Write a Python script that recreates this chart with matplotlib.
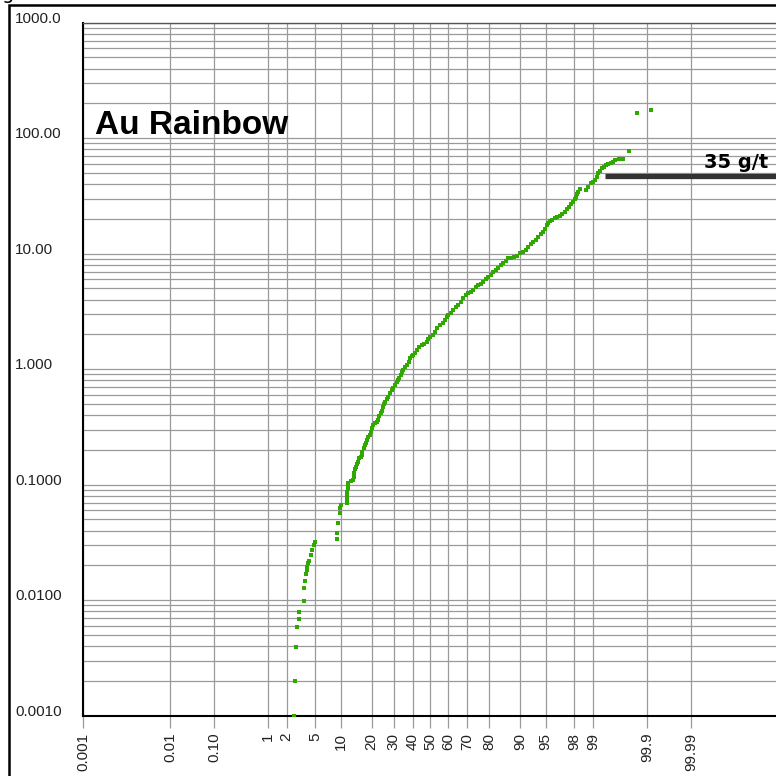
# -*- coding: utf-8 -*-
"""
Au Rainbow - log probability plot
"""
import math

import numpy as np

import matplotlib
matplotlib.use('Agg')
import matplotlib.pyplot as plt
from matplotlib.patches import Rectangle
from matplotlib.ticker import FixedLocator, NullLocator, LogLocator


# cumulative frequency (%)
pct = [2.58, 2.65, 2.71, 2.85, 3.02, 3.02, 3.54, 3.54, 3.68, 3.73,
       3.85, 3.92, 4.04, 4.18, 4.39, 4.59, 4.81, 4.95,
       9.02, 9.17, 9.40, 9.80, 9.92, 10.05, 11.57, 11.64, 11.73, 11.78,
       11.85, 11.94, 12.03, 12.73, 13.50, 13.61, 13.72, 14.01, 14.37, 14.76,
       15.13, 15.53, 15.94, 16.23, 16.50, 16.98, 17.46, 17.78, 18.11, 18.73,
       19.38, 19.71, 20.05, 20.70, 21.39, 22.07, 22.78, 23.31, 23.86, 24.29,
       24.73, 25.24, 25.79, 26.54, 27.33, 28.14, 28.98, 29.78, 30.61, 31.42,
       32.28, 32.89, 33.51, 34.16, 34.87, 35.94, 37.03, 37.75, 38.48, 39.36,
       40.28, 41.37, 42.50, 43.72, 44.99, 46.42, 47.85, 48.80, 49.72, 51.16,
       52.55, 53.98, 55.41, 56.83, 58.20, 59.09, 60.03, 61.41, 62.78, 64.13,
       65.43, 66.75, 68.05, 69.32, 70.54, 71.76, 72.94, 74.12, 75.27, 76.39,
       77.46, 78.52, 79.56, 80.56, 81.51, 82.46, 83.37, 84.25, 85.08, 85.90,
       86.67, 87.51, 88.32, 89.09, 89.95, 90.75, 91.34, 91.88, 92.40, 92.91,
       93.38, 93.82, 94.25, 94.64, 94.91, 95.15, 95.39, 95.61, 95.93, 96.24,
       96.52, 96.78, 97.03, 97.26, 97.45, 97.63, 97.79, 97.93, 98.03, 98.12,
       98.19, 98.26, 98.37, 98.68, 98.79, 98.90, 98.98, 99.06, 99.12, 99.17,
       99.22, 99.28, 99.33, 99.39, 99.45, 99.50, 99.54, 99.58, 99.64, 99.70,
       99.77, 99.84, 99.92]

# Au grade (g/t)
grade = [0.001, 0.002, 0.0039, 0.0059, 0.0069, 0.0079, 0.0099, 0.0128, 0.0148, 0.0169,
         0.0183, 0.0195, 0.0209, 0.022, 0.0246, 0.0272, 0.0301, 0.0321,
         0.0337, 0.0379, 0.0463, 0.0565, 0.0624, 0.0667, 0.069, 0.075, 0.0814, 0.0867,
         0.0931, 0.0982, 0.1028, 0.1076, 0.1098, 0.1159, 0.1255, 0.1355, 0.1432, 0.1496,
         0.1581, 0.169, 0.1748, 0.182, 0.1931, 0.208, 0.2207, 0.229, 0.2438, 0.2582,
         0.2693, 0.2851, 0.3079, 0.3273, 0.3401, 0.3491, 0.3633, 0.3936, 0.4152, 0.4385,
         0.4734, 0.5035, 0.5232, 0.547, 0.578, 0.6266, 0.6606, 0.6887, 0.7298, 0.7762,
         0.8062, 0.8414, 0.891, 0.9484, 0.984, 1.042, 1.087, 1.148, 1.243, 1.294,
         1.327, 1.384, 1.466, 1.556, 1.62, 1.66, 1.73, 1.832, 1.911, 1.995,
         2.112, 2.28, 2.414, 2.518, 2.667, 2.831, 2.946, 3.069, 3.254, 3.459,
         3.596, 3.811, 4.111, 4.365, 4.541, 4.656, 4.851, 5.14, 5.358, 5.508,
         5.723, 6.053, 6.323, 6.592, 6.986, 7.178, 7.475, 7.925, 8.26, 8.59,
         9.126, 9.183, 9.441, 9.552, 10.07, 10.41, 10.86, 11.5, 12.16, 12.7,
         13.24, 14.04, 14.86, 15.51, 16.44, 17.72, 18.62, 19.31, 19.68, 20.25,
         20.8, 21.2, 22.03, 23.1, 24.38, 25.52, 26.67, 28.2, 29.79, 31.15,
         32.58, 34.42, 36.1, 35.6, 38.0, 40.7, 42.07, 43.46, 46.45, 49.67,
         52.24, 54.88, 56.75, 58.6, 59.57, 60.6, 62.66, 64.75, 66.07, 65.66,
         77.95, 166.3, 174.4]

# axis ticks
x_ticks = [0.01, 0.1, 1, 2, 5, 10, 20, 30, 40, 50, 60, 70, 80, 90, 95, 98, 99, 99.9, 99.99]
x_labels = ['0.01', '0.10', '1', '2', '5', '10', '20', '30', '40', '50', '60', '70',
            '80', '90', '95', '98', '99', '99.9', '99.99']
y_ticks = [0.001, 0.01, 0.1, 1, 10, 100, 1000]
y_labels = ['0.0010', '0.0100', '0.1000', '1.000', '10.00', '100.00', '1000.0']

# cut-off line
cutoff = 47
cutoff_from = 99.37


#normal quantile (Acklam approximation)
def ppf(q):
    q = np.atleast_1d(np.asarray(q, dtype=float))
    shape = q.shape
    q = np.clip(q.ravel(), 1e-15, 1 - 1e-15)
    a = [-3.969683028665376e+01, 2.209460984245205e+02, -2.759285104469687e+02,
         1.383577518672690e+02, -3.066479806614716e+01, 2.506628277459239e+00]
    b = [-5.447609879822406e+01, 1.615858368580409e+02, -1.556989798598866e+02,
         6.680131188771972e+01, -1.328068155288572e+01]
    c = [-7.784894002430293e-03, -3.223964580411365e-01, -2.400758277161838e+00,
         -2.549671010380782e+00, 4.374664141464968e+00, 2.938163982698783e+00]
    d = [7.784695709041462e-03, 3.224671290700398e-01, 2.445134137142996e+00,
         3.754408661907416e+00]
    out = np.empty_like(q)
    lo = q < 0.02425
    hi = q > 1 - 0.02425
    mid = ~(lo | hi)

    r = np.sqrt(-2 * np.log(q[lo]))
    out[lo] = (((((c[0]*r+c[1])*r+c[2])*r+c[3])*r+c[4])*r+c[5]) / ((((d[0]*r+d[1])*r+d[2])*r+d[3])*r+1)
    r = np.sqrt(-2 * np.log(1 - q[hi]))
    out[hi] = -(((((c[0]*r+c[1])*r+c[2])*r+c[3])*r+c[4])*r+c[5]) / ((((d[0]*r+d[1])*r+d[2])*r+d[3])*r+1)
    s = q[mid] - 0.5
    r = s * s
    out[mid] = (((((a[0]*r+a[1])*r+a[2])*r+a[3])*r+a[4])*r+a[5])*s / (((((b[0]*r+b[1])*r+b[2])*r+b[3])*r+b[4])*r+1)
    return out.reshape(shape)


_erf = np.vectorize(math.erf)


def forward(p):
    return ppf(np.asarray(p, dtype=float) / 100.0)


def inverse(z):
    z = np.asarray(z, dtype=float)
    return 100.0 * 0.5 * (1 + _erf(z / math.sqrt(2)))


fig = plt.figure(figsize=(7.76, 7.76), dpi=100)

W, H = 776.0, 776.0
ax = fig.add_axes([83 / W, (H - 715.7) / H, 717 / W, 693 / H])

ax.set_xscale('function', functions=(forward, inverse))
ax.set_yscale('log')

# x range in normal scores (70 px per unit)
xmin = float(inverse(-4.964))
xmax = float(inverse(5.279))
ax.set_xlim(xmin, xmax)
ax.set_ylim(0.001, 1000)

#数据点
ax.plot(pct, grade, linestyle='none', marker='s', markersize=3.5,
        markerfacecolor='#2fa800', markeredgewidth=0, zorder=3)

# cut-off bar
ax.plot([cutoff_from, xmax], [cutoff, cutoff], color='#333333', lw=3.8,
        solid_capstyle='butt', zorder=4)
ax.text((704 - 83) / 717, (715.7 - 168.3) / 693, '35 g/t', transform=ax.transAxes,
        fontsize=14, fontweight='bold', family='DejaVu Sans', va='baseline', ha='left')

ax.text((95 - 83) / 717, (715.7 - 134) / 693, 'Au Rainbow', transform=ax.transAxes,
        fontsize=24, fontweight='bold', family='Liberation Sans', va='baseline', ha='left')

#刻度
ax.xaxis.set_major_locator(FixedLocator([xmin] + x_ticks))
ax.set_xticklabels(['0.001'] + x_labels, rotation=90, fontsize=11,
                   family='Liberation Sans', color='#222222')
ax.xaxis.set_minor_locator(NullLocator())

ax.yaxis.set_major_locator(FixedLocator(y_ticks))
ax.set_yticklabels(y_labels, fontsize=11, family='Liberation Sans', color='#222222',
                   ha='left', va='baseline')
ax.yaxis.set_minor_locator(LogLocator(base=10, subs=np.arange(2, 10)))

ax.tick_params(axis='x', which='major', length=8.6, width=0.9, color='#9a9a9a',
               pad=3.6, direction='out')
ax.tick_params(axis='y', which='both', length=0, pad=49)

#网格
ax.grid(True, which='major', axis='both', color='#9a9a9a', lw=0.9)
ax.grid(True, which='minor', axis='y', color='#9a9a9a', lw=0.9)
ax.set_axisbelow(True)

ax.spines['left'].set_linewidth(1.5)
ax.spines['bottom'].set_linewidth(1.5)
ax.spines['top'].set_color('#555555')
ax.spines['top'].set_linewidth(1.0)
ax.spines['right'].set_visible(False)

# outer frame
fig.add_artist(Rectangle((9 / W, -0.1), 1.2, (H - 5) / H + 0.1, transform=fig.transFigure,
                         fill=False, edgecolor='black', lw=1.8))
fig.text(2 / W, 1 + 1 / H, 'g', fontsize=14, va='baseline', ha='left')

fig.savefig('out.png', dpi=100)
